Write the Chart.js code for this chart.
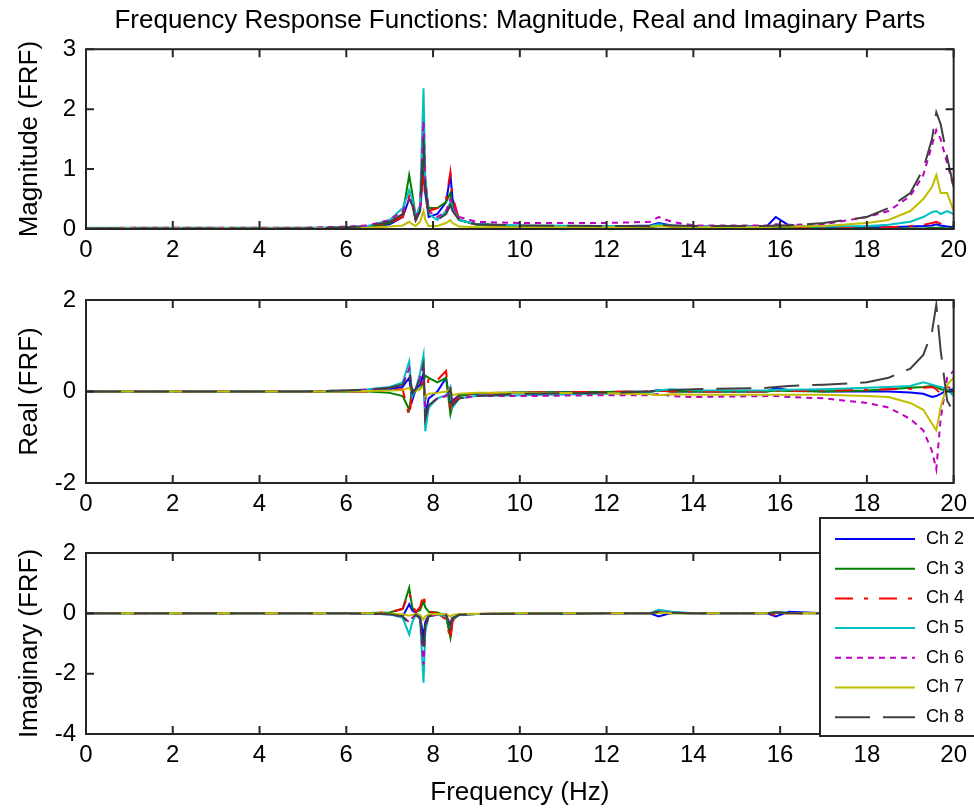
<!DOCTYPE html>
<html>
<head>
<meta charset="utf-8">
<script src="https://cdn.jsdelivr.net/npm/chart.js@4.4.1/dist/chart.umd.min.js"></script>
<style>
  body { margin: 0; background: #fff; width: 974px; height: 810px; overflow: hidden; position: relative; }
  canvas { position: absolute; left: 0; }
</style>
</head>
<body>
<canvas id="magChart" width="974" height="270" style="top:0"></canvas>
<canvas id="reChart" width="974" height="254" style="top:270px"></canvas>
<canvas id="imChart" width="974" height="300" style="top:510px"></canvas>
<script>
// =====================
// DATA
// =====================
const channels = ["Ch 2", "Ch 3", "Ch 4", "Ch 5", "Ch 6", "Ch 7", "Ch 8"];
const freq = [0, 1, 3, 5, 6, 6.5, 7, 7.3, 7.45, 7.52, 7.6, 7.7, 7.78, 7.82, 7.9, 8.1, 8.3, 8.4, 8.45, 8.6,
  9, 10, 12, 13, 13.2, 13.5, 14, 15.7, 15.9, 16.2, 17, 18, 18.5, 19, 19.3, 19.5, 19.6, 19.7, 19.85, 20];
const xTicks = [0, 2, 4, 6, 8, 10, 12, 14, 16, 18, 20];

// magnitude
const mag2 = [0.01,0.01,0.01,0.01,0.02,0.03,0.08,0.2,0.5,0.45,0.15,0.3,1.0,0.6,0.2,0.25,0.45,0.9,0.5,0.15,0.08,0.05,0.04,0.06,0.1,0.06,0.04,0.05,0.2,0.06,0.03,0.03,0.03,0.04,0.05,0.06,0.08,0.06,0.04,0.03];
const mag3 = [0.01,0.01,0.01,0.01,0.02,0.03,0.1,0.25,0.9,0.6,0.2,0.35,1.3,0.7,0.35,0.35,0.45,0.6,0.4,0.15,0.07,0.04,0.03,0.03,0.05,0.04,0.02,0.02,0.03,0.02,0.01,0.01,0.01,0.01,0.01,0.02,0.02,0.02,0.01,0.01];
const mag4 = [0.01,0.01,0.01,0.01,0.02,0.03,0.1,0.2,0.55,0.45,0.15,0.3,0.9,0.5,0.3,0.35,0.5,0.95,0.55,0.15,0.07,0.04,0.03,0.04,0.06,0.04,0.03,0.03,0.05,0.04,0.02,0.02,0.03,0.05,0.07,0.1,0.12,0.09,0.06,0.05];
const mag5 = [0.02,0.02,0.02,0.02,0.03,0.05,0.15,0.35,0.65,0.5,0.2,0.4,2.35,0.9,0.25,0.15,0.3,0.45,0.35,0.15,0.08,0.06,0.05,0.05,0.08,0.06,0.04,0.04,0.06,0.05,0.04,0.05,0.07,0.12,0.2,0.28,0.3,0.25,0.3,0.25];
const mag6 = [0.01,0.02,0.02,0.02,0.04,0.06,0.15,0.3,0.5,0.45,0.2,0.35,1.8,0.8,0.3,0.2,0.3,0.5,0.4,0.2,0.12,0.1,0.1,0.12,0.2,0.12,0.06,0.06,0.08,0.07,0.08,0.2,0.3,0.55,0.9,1.4,1.65,1.5,1.1,0.7];
const mag7 = [0.01,0.01,0.01,0.01,0.01,0.02,0.04,0.06,0.12,0.08,0.05,0.12,0.3,0.15,0.05,0.05,0.1,0.15,0.1,0.04,0.03,0.03,0.03,0.04,0.05,0.04,0.03,0.03,0.04,0.04,0.05,0.1,0.15,0.3,0.5,0.7,0.9,0.6,0.6,0.3];
const mag8 = [0.01,0.01,0.01,0.01,0.03,0.05,0.12,0.25,0.5,0.4,0.15,0.3,1.5,0.7,0.25,0.15,0.25,0.4,0.3,0.15,0.08,0.06,0.05,0.05,0.07,0.06,0.05,0.05,0.06,0.06,0.1,0.2,0.35,0.6,1.0,1.5,1.95,1.75,1.2,0.7];

// real part
const re2 = [0,0,0,0,0,0.02,0.05,0.1,0.3,-0.2,0.05,0.15,0.4,-0.5,-0.15,0,0.3,-0.3,-0.2,-0.08,-0.05,-0.02,-0.01,0,0.03,0,0,0,0.08,0.03,0,0,0,-0.02,-0.05,-0.12,-0.1,-0.05,0.03,0.05];
const re3 = [0,0,0,0,0,0,-0.03,-0.1,-0.4,0.05,0.02,0.05,0.2,0.35,0.3,0.2,0.3,-0.5,-0.3,-0.1,-0.04,-0.02,-0.01,0,0.02,0,0,0,0.02,0.01,0,0.02,0.05,0.08,0.1,0.12,0.1,0.05,0.02,0];
const re4 = [0,0,0,0,0,0,0.03,0.05,-0.55,-0.05,0.02,0.08,0.25,-0.2,0.3,0.25,0.45,-0.35,-0.25,-0.08,-0.04,-0.02,-0.01,0,0.02,0,0,0,0.02,0.01,0.02,0.04,0.05,0.06,0.08,0.1,0.05,-0.05,0.1,0.05];
const re5 = [0,0,0,0,0.02,0.05,0.1,0.2,0.66,-0.1,0.05,0.4,0.8,-0.87,-0.35,-0.15,-0.08,0.1,-0.35,-0.15,-0.1,-0.08,-0.05,-0.02,0.03,0.05,0.03,0.02,0.04,0.04,0.05,0.08,0.1,0.12,0.2,0.15,0.12,0.1,0.05,-0.1];
const re6 = [0,0,0,0,0.02,0.04,0.08,0.15,0.5,-0.05,0.05,0.3,0.6,-0.55,-0.3,-0.15,-0.1,0.05,-0.3,-0.15,-0.1,-0.1,-0.08,-0.08,-0.05,-0.1,-0.12,-0.1,-0.1,-0.12,-0.15,-0.25,-0.35,-0.6,-0.85,-1.3,-1.7,-0.6,0.3,0.45];
const re7 = [0,0,0,0,0,0.01,0.02,0.03,0.08,-0.02,0.02,0.05,0.12,-0.1,-0.05,-0.03,0,0.05,-0.08,-0.05,-0.03,-0.03,-0.04,-0.06,-0.08,-0.06,-0.07,-0.07,-0.07,-0.07,-0.07,-0.1,-0.12,-0.25,-0.4,-0.7,-0.85,-0.35,0.15,0.3];
const re8 = [0,0,0,0,0.02,0.04,0.08,0.15,0.45,-0.05,0.05,0.3,0.6,-0.6,-0.3,-0.15,-0.1,0.05,-0.3,-0.15,-0.1,-0.05,-0.03,0,0.02,0.03,0.05,0.08,0.1,0.12,0.15,0.2,0.3,0.5,0.8,1.3,1.9,0.9,-0.2,-0.45];

// imaginary part
const im2 = [0,0,0,0,0,-0.01,-0.03,-0.1,0.3,0.1,0.02,-0.1,-0.8,-0.3,-0.05,0,-0.1,-0.7,-0.2,-0.05,-0.02,-0.01,0,0,-0.1,0.02,0,0,-0.1,0.05,0,0,0,0.01,0.02,0.03,0.05,0.03,0.01,0];
const im3 = [0,0,0,0,0,0.01,0.03,0.15,0.85,0.2,0.05,0.1,0.4,0.2,0.05,0.03,-0.1,-0.8,-0.2,-0.05,-0.02,-0.01,0,0,0.05,0,0,0,0.03,0,0,0,0,0,0,0,0,0,0,0];
const im4 = [0,0,0,0,0,0.01,0.03,0.15,0.7,0.3,0.05,0.2,0.65,0.3,0.05,0,-0.2,-0.9,-0.25,-0.05,-0.02,-0.01,0,0,0.05,0,0,0,-0.05,0,0,0,0,-0.02,-0.03,-0.05,-0.1,-0.05,-0.02,0];
const im5 = [0,0,0,0,0,-0.01,-0.03,-0.15,-0.7,-0.3,-0.05,-0.2,-2.3,-0.6,-0.1,-0.05,-0.1,-0.4,-0.15,-0.05,-0.02,-0.01,0,0,0.12,0.05,0,0,0.05,0.02,0,0,0,-0.05,-0.1,-0.25,-0.28,-0.2,-0.25,-0.2];
const im6 = [0,0,0,0,0,-0.01,-0.03,-0.1,-0.3,-0.15,-0.05,-0.15,-1.7,-0.5,-0.1,-0.05,-0.05,-0.3,-0.12,-0.04,-0.02,-0.01,0,0,0.05,0.02,0,0,0.03,0.01,0,-0.05,-0.1,-0.2,-0.3,-0.4,-0.3,-1.4,-1.0,-0.55];
const im7 = [0,0,0,0,0,0,-0.01,-0.03,-0.08,-0.05,-0.02,-0.05,-0.2,-0.1,-0.03,-0.02,-0.03,-0.1,-0.05,-0.02,-0.01,0,0,0,0.02,0,0,0,0.02,0,0,-0.03,-0.07,-0.15,-0.3,-0.2,-0.2,-0.5,-0.55,-0.1];
const im8 = [0,0,0,0,0,-0.01,-0.03,-0.1,-0.35,-0.15,-0.05,-0.15,-1.3,-0.4,-0.1,-0.05,-0.05,-0.4,-0.15,-0.05,-0.02,-0.01,0,0,0.05,0.02,0,0,0.03,0.01,0,-0.03,-0.08,-0.2,-0.4,-0.4,-0.4,-1.5,-1.2,-0.7];

// =====================
// STYLE
// =====================
const colors = ["#0000ff", "#008000", "#ff0000", "#00bfbf", "#bf00bf", "#bfbf00", "#404040"];
const dashes = [[], [], [18, 11, 4, 11], [], [6, 5], [], [35, 13]];
const AXIS = "#262626";

Chart.defaults.font.family = "'Liberation Sans', Arial, sans-serif";
Chart.defaults.color = "#000";

function makeSets(series) {
  return series.map((arr, i) => ({
    label: channels[i],
    data: freq.map((f, k) => ({ x: f, y: arr[k] })),
    borderColor: colors[i],
    borderDash: dashes[i],
    borderWidth: 2,
    pointRadius: 0,
    fill: false,
    tension: 0,
    order: series.length - i
  }));
}

function xScale(withTitle) {
  return {
    type: "linear", min: 0, max: 20,
    afterBuildTicks: s => { s.ticks = xTicks.map(v => ({ value: v })); },
    ticks: { color: "#000", font: { size: 24 }, padding: 7, maxRotation: 0, autoSkip: false },
    grid: { display: false, drawTicks: false },
    border: { display: false },
    title: withTitle
      ? { display: true, text: "Frequency (Hz)", color: "#000", font: { size: 26 }, padding: { top: 0, bottom: 2 } }
      : { display: false },
    afterFit: s => { s.height = withTitle ? 76 : 41; }
  };
}

function yScale(min, max, label) {
  return {
    min: min, max: max,
    ticks: { stepSize: (min === 0 ? 1 : 2), color: "#000", font: { size: 24 }, padding: 10 },
    grid: { display: false, drawTicks: false },
    border: { display: false },
    title: { display: true, text: label, color: "#000", font: { size: 26 }, padding: 14 },
    afterFit: s => { s.width = 86; }
  };
}

// box + inward ticks like the original axes
const frame = {
  id: "frame",
  afterDatasetsDraw(chart) {
    const { ctx, chartArea: a, scales } = chart;
    ctx.save();
    ctx.strokeStyle = AXIS;
    ctx.lineWidth = 2;
    ctx.strokeRect(a.left, a.top, a.right - a.left, a.bottom - a.top);
    ctx.beginPath();
    scales.x.ticks.forEach(t => {
      const px = scales.x.getPixelForValue(t.value);
      ctx.moveTo(px, a.bottom); ctx.lineTo(px, a.bottom - 8);
      ctx.moveTo(px, a.top); ctx.lineTo(px, a.top + 8);
    });
    scales.y.ticks.forEach(t => {
      const py = scales.y.getPixelForValue(t.value);
      ctx.moveTo(a.left, py); ctx.lineTo(a.left + 8, py);
      ctx.moveTo(a.right, py); ctx.lineTo(a.right - 8, py);
    });
    ctx.stroke();
    ctx.restore();
  }
};

// legend box in the lower right
const legendBox = {
  id: "legendBox",
  afterDraw(chart) {
    const ctx = chart.ctx;
    const top = 8, left = 820, bottom = 226;
    ctx.save();
    ctx.fillStyle = "#fff";
    ctx.fillRect(left, top, 200, bottom - top);
    ctx.strokeStyle = AXIS;
    ctx.lineWidth = 2;
    ctx.strokeRect(left, top, 200, bottom - top);
    ctx.font = "18px 'Liberation Sans', Arial, sans-serif";
    ctx.textBaseline = "middle";
    channels.forEach((name, i) => {
      const y = top + 21 + i * 29.7;
      ctx.strokeStyle = colors[i];
      ctx.setLineDash(dashes[i]);
      ctx.beginPath();
      ctx.moveTo(835, y); ctx.lineTo(915, y);
      ctx.stroke();
      ctx.setLineDash([]);
      ctx.fillStyle = "#000";
      ctx.fillText(name, 926, y);
    });
    ctx.restore();
  }
};

function baseOptions(extra) {
  return Object.assign({
    responsive: false,
    animation: false,
    plugins: { legend: { display: false }, tooltip: { enabled: false } }
  }, extra);
}

// =====================
// MAGNITUDE
// =====================
new Chart(document.getElementById("magChart"), {
  type: "line",
  data: { datasets: makeSets([mag2, mag3, mag4, mag5, mag6, mag7, mag8]) },
  options: baseOptions({
    layout: { padding: { top: 0, right: 20, left: 0, bottom: 0 } },
    plugins: {
      legend: { display: false }, tooltip: { enabled: false },
      title: {
        display: true,
        fullSize: false,
        text: "Frequency Response Functions: Magnitude, Real and Imaginary Parts",
        color: "#000", font: { size: 26, weight: "normal" },
        padding: { top: 5, bottom: 13 }
      }
    },
    scales: { x: xScale(false), y: yScale(0, 3, "Magnitude (FRF)") }
  }),
  plugins: [frame]
});

// =====================
// REAL
// =====================
new Chart(document.getElementById("reChart"), {
  type: "line",
  data: { datasets: makeSets([re2, re3, re4, re5, re6, re7, re8]) },
  options: baseOptions({
    layout: { padding: { top: 30, right: 20, left: 0, bottom: 0 } },
    scales: { x: xScale(false), y: yScale(-2, 2, "Real (FRF)") }
  }),
  plugins: [frame]
});

// =====================
// IMAGINARY
// =====================
new Chart(document.getElementById("imChart"), {
  type: "line",
  data: { datasets: makeSets([im2, im3, im4, im5, im6, im7, im8]) },
  options: baseOptions({
    layout: { padding: { top: 43, right: 20, left: 0, bottom: 0 } },
    scales: { x: xScale(true), y: yScale(-4, 2, "Imaginary (FRF)") }
  }),
  plugins: [frame, legendBox]
});
</script>
</body>
</html>
